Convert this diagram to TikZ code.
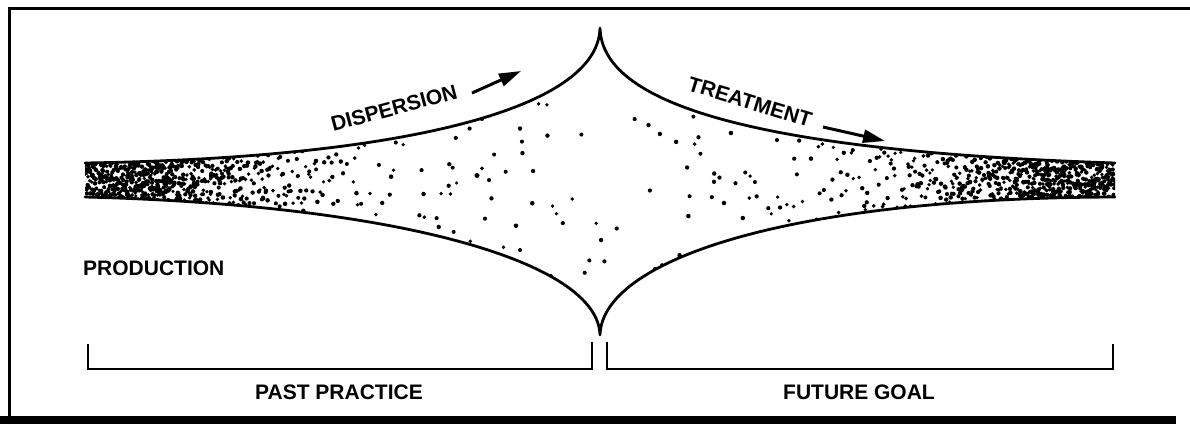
\documentclass[tikz,border=0pt]{standalone}
\usepackage{fontspec}
\setmainfont{Liberation Sans}
\usetikzlibrary{arrows.meta}
\tikzset{
  lbl/.style={font=\bfseries\fontsize{21}{21}\selectfont, inner sep=0pt},
  edge/.style={line width=2.8pt, line cap=round, line join=round},
  brk/.style={line width=2.4pt, line join=miter},
  arr/.style={line width=3pt, -{Triangle[length=22pt,width=13pt]}},
  speck/.style={fill=black}
}
\begin{document}
\begin{tikzpicture}[x=1pt,y=-1pt]
\useasboundingbox (0,0) rectangle (1190,424);
\fill[white] (0,0) rectangle (1190,424);
% frame
\draw[line width=3pt] (9,424) -- (9,8.5) -- (1190,8.5);
\fill (0,416) rectangle (1176,424);
% key points of the envelope
\coordinate (LT) at (85,163);
\coordinate (LB) at (85,197);
\coordinate (RT) at (1115,163);
\coordinate (RB) at (1115,197);
\coordinate (CT) at (600,28);
\coordinate (CB) at (600,335);
% speckle texture
\pgfmathsetseed{7}
\begin{scope}
\clip (LT) .. controls (400,158) and (598,110) .. (CT)
      .. controls (602,110) and (780,152) .. (RT) -- (RB)
      .. controls (780,198) and (602,262) .. (CB)
      .. controls (598,262) and (400,205) .. (LB) -- cycle;
\foreach \x in {85,...,1114} {
  \pgfmathsetmacro\ee{515-abs(\x-600)}
  \pgfmathsetmacro\hh{40+0.1*\ee+270*(\ee/515)^6}
  \pgfmathsetmacro\dens{\ee<70 ? 0.11 : 0.0008+0.11*exp(-(\ee-70)/68)}
  \pgfmathtruncatemacro\nn{floor(\dens*\hh+rnd)}
  \ifnum\nn>0
    \foreach \k in {1,...,\nn}{
      \fill[speck] (\x+rnd,{180+(rnd-0.5)*\hh}) circle[radius={1.8+0.5*rnd}];
    }
  \fi
}
\end{scope}
% envelope outlines
\draw[edge] (LT) .. controls (400,158) and (598,110) .. (CT)
      .. controls (602,110) and (780,152) .. (RT);
\draw[edge] (LB) .. controls (400,205) and (598,262) .. (CB)
      .. controls (602,262) and (780,198) .. (RB);
% arrows
\coordinate (d1) at (472,93);
\coordinate (d2) at (521,71);
\coordinate (t1) at (823,127);
\coordinate (t2) at (885,141);
\draw[arr] (d1) -- (d2);
\draw[arr] (t1) -- (t2);
% labels
\node[lbl, rotate=15] (disp) at (394,108) {DISPERSION};
\node[lbl, rotate=-17] (treat) at (750,102) {TREATMENT};
\node[lbl, anchor=base west] (prod) at (83,275) {PRODUCTION};
% brackets
\coordinate (a1) at (88,344);
\coordinate (a2) at (88,369);
\coordinate (a3) at (592,369);
\coordinate (a4) at (592,342);
\coordinate (b1) at (607,342);
\coordinate (b2) at (607,369);
\coordinate (b3) at (1113,369);
\coordinate (b4) at (1113,344);
\draw[brk] (a1) -- (a2) -- (a3) -- (a4);
\draw[brk] (b1) -- (b2) -- (b3) -- (b4);
\node[lbl] (past) at (339,392.5) {PAST PRACTICE};
\node[lbl] (future) at (859,392.5) {FUTURE GOAL};
\end{tikzpicture}
\end{document}
